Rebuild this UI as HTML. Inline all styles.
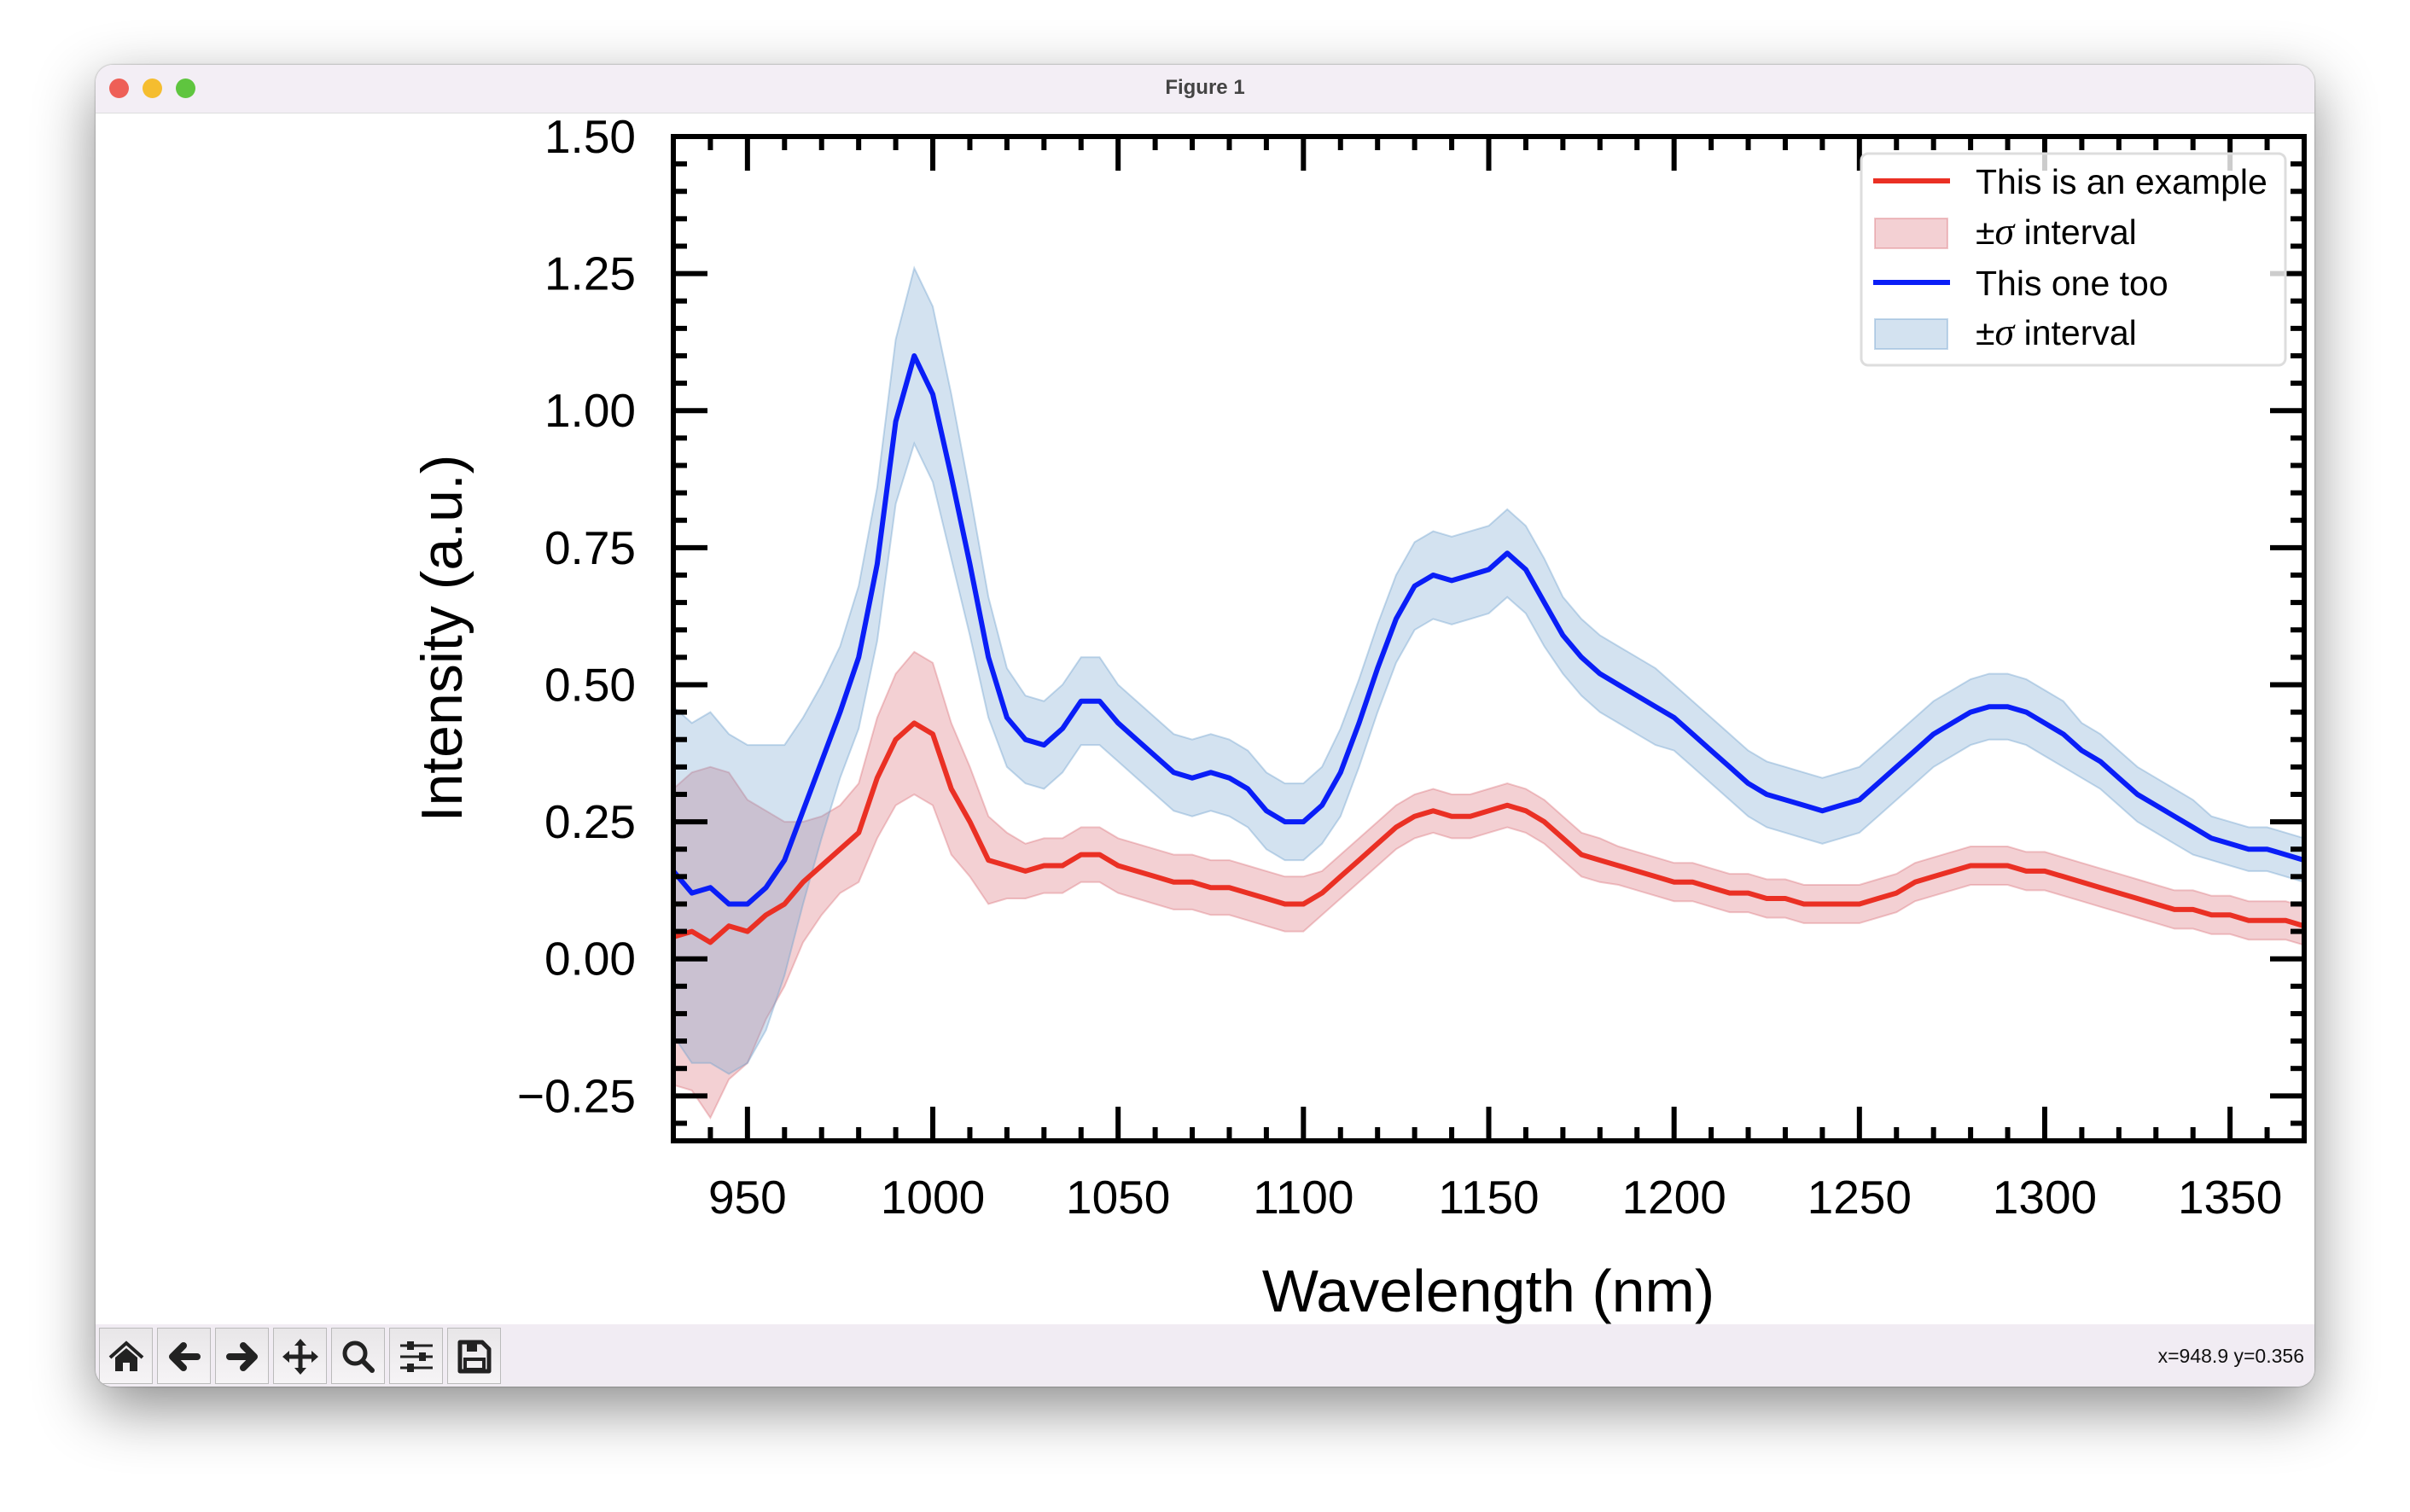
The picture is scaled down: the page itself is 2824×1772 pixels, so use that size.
<!DOCTYPE html>
<html><head><meta charset="utf-8"><style>
html,body{margin:0;padding:0;background:#fff;}
body{width:2824px;height:1772px;position:relative;overflow:hidden;font-family:"Liberation Sans",sans-serif;}
#win{position:absolute;left:112px;top:76px;width:2600px;height:1549px;background:#fff;border-radius:20px;box-shadow:0 25px 70px rgba(0,0,0,0.45),0 0 2px rgba(0,0,0,0.4);overflow:hidden;}
#titlebar{position:absolute;left:0;top:0;width:2600px;height:56px;background:#f3eef5;border-bottom:1px solid #ddd;}
#title{position:absolute;left:0;right:0;top:13px;text-align:center;font-weight:bold;font-size:24px;color:#444;}
.dot{position:absolute;top:16px;width:23px;height:23px;border-radius:50%;}
#toolbar{position:absolute;left:0;top:1476px;width:2600px;height:73px;background:#f1ecf3;}
.btn{position:absolute;top:4px;width:63px;height:66px;border:1px solid #bbb;background:linear-gradient(#e8e6e8,#f6f4f6);box-sizing:border-box;}
.btn svg{position:absolute;left:10px;top:12px;}
#coords{position:absolute;right:12px;top:24px;font-size:23px;color:#111;}
</style></head><body>
<div id="win">
 <div id="titlebar">
  <div class="dot" style="left:16px;background:#ee5f57"></div>
  <div class="dot" style="left:55px;background:#f5bd2f"></div>
  <div class="dot" style="left:94px;background:#5fc53f"></div>
  <div id="title">Figure 1</div>
 </div>
 <div id="toolbar">
  <div class="btn" style="left:4px"><svg width="42" height="42" viewBox="0 0 42 42"><path d="M2 22 L21 5 L40 22" fill="none" stroke="#222" stroke-width="4"/><path d="M8 22 L21 11 L34 22 V38 H25 V28 H17 V38 H8Z" fill="#222"/></svg></div>
  <div class="btn" style="left:72px"><svg width="42" height="42" viewBox="0 0 42 42"><path d="M36 21 H8 M20 8 L7 21 L20 34" fill="none" stroke="#222" stroke-width="8" stroke-linecap="round" stroke-linejoin="round"/></svg></div>
  <div class="btn" style="left:140px"><svg width="42" height="42" viewBox="0 0 42 42"><path d="M6 21 H34 M22 8 L35 21 L22 34" fill="none" stroke="#222" stroke-width="8" stroke-linecap="round" stroke-linejoin="round"/></svg></div>
  <div class="btn" style="left:208px"><svg width="42" height="42" viewBox="0 0 42 42"><path d="M21 4 V38 M4 21 H38" stroke="#222" stroke-width="5"/><path d="M21 0 L28 8 H14Z M21 42 L28 34 H14Z M0 21 L8 14 V28Z M42 21 L34 14 V28Z" fill="#222"/></svg></div>
  <div class="btn" style="left:276px"><svg width="42" height="42" viewBox="0 0 42 42"><circle cx="17" cy="17" r="12" fill="none" stroke="#222" stroke-width="5"/><path d="M26 26 L37 37" stroke="#222" stroke-width="6" stroke-linecap="round"/></svg></div>
  <div class="btn" style="left:344px"><svg width="42" height="42" viewBox="0 0 42 42"><path d="M2 8 H40 M2 21 H40 M2 34 H40" stroke="#222" stroke-width="3"/><rect x="10" y="3" width="8" height="10" fill="#222"/><rect x="24" y="16" width="8" height="10" fill="#222"/><rect x="10" y="29" width="8" height="10" fill="#222"/></svg></div>
  <div class="btn" style="left:412px"><svg width="42" height="42" viewBox="0 0 42 42"><path d="M4 4 H30 L38 12 V38 H4Z" fill="none" stroke="#222" stroke-width="5" stroke-linejoin="round"/><rect x="12" y="4" width="12" height="11" fill="#222"/><rect x="10" y="24" width="22" height="12" fill="none" stroke="#222" stroke-width="4"/></svg></div>
  <div id="coords">x=948.9 y=0.356</div>
 </div>
</div>
<svg id="chart" width="2824" height="1772" style="position:absolute;left:0;top:0"></svg>
<script>
const wavelengths=[930,935,940,945,950,955,960,965,970,975,980,985,990,995,1000,1005,1010,1015,1020,1025,1030,1035,1040,1045,1050,1055,1060,1065,1070,1075,1080,1085,1090,1095,1100,1105,1110,1115,1120,1125,1130,1135,1140,1145,1150,1155,1160,1165,1170,1175,1180,1185,1190,1195,1200,1205,1210,1215,1220,1225,1230,1235,1240,1245,1250,1255,1260,1265,1270,1275,1280,1285,1290,1295,1300,1305,1310,1315,1320,1325,1330,1335,1340,1345,1350,1355,1360,1365,1370];
const blueMean=[0.16,0.12,0.13,0.10,0.10,0.13,0.18,0.27,0.36,0.45,0.55,0.72,0.98,1.10,1.03,0.88,0.72,0.55,0.44,0.40,0.39,0.42,0.47,0.47,0.43,0.40,0.37,0.34,0.33,0.34,0.33,0.31,0.27,0.25,0.25,0.28,0.34,0.43,0.53,0.62,0.68,0.70,0.69,0.70,0.71,0.74,0.71,0.65,0.59,0.55,0.52,0.50,0.48,0.46,0.44,0.41,0.38,0.35,0.32,0.30,0.29,0.28,0.27,0.28,0.29,0.32,0.35,0.38,0.41,0.43,0.45,0.46,0.46,0.45,0.43,0.41,0.38,0.36,0.33,0.30,0.28,0.26,0.24,0.22,0.21,0.20,0.20,0.19,0.18];
const blueSigma=[0.30,0.31,0.32,0.31,0.29,0.26,0.21,0.17,0.14,0.12,0.13,0.14,0.15,0.16,0.16,0.15,0.13,0.11,0.09,0.08,0.08,0.08,0.08,0.08,0.07,0.07,0.07,0.07,0.07,0.07,0.07,0.07,0.07,0.07,0.07,0.07,0.08,0.08,0.08,0.08,0.08,0.08,0.08,0.08,0.08,0.08,0.08,0.08,0.07,0.07,0.07,0.07,0.07,0.07,0.06,0.06,0.06,0.06,0.06,0.06,0.06,0.06,0.06,0.06,0.06,0.06,0.06,0.06,0.06,0.06,0.06,0.06,0.06,0.06,0.06,0.06,0.05,0.05,0.05,0.05,0.05,0.05,0.05,0.04,0.04,0.04,0.04,0.04,0.04];
const redMean=[0.04,0.05,0.03,0.06,0.05,0.08,0.10,0.14,0.17,0.20,0.23,0.33,0.40,0.43,0.41,0.31,0.25,0.18,0.17,0.16,0.17,0.17,0.19,0.19,0.17,0.16,0.15,0.14,0.14,0.13,0.13,0.12,0.11,0.10,0.10,0.12,0.15,0.18,0.21,0.24,0.26,0.27,0.26,0.26,0.27,0.28,0.27,0.25,0.22,0.19,0.18,0.17,0.16,0.15,0.14,0.14,0.13,0.12,0.12,0.11,0.11,0.10,0.10,0.10,0.10,0.11,0.12,0.14,0.15,0.16,0.17,0.17,0.17,0.16,0.16,0.15,0.14,0.13,0.12,0.11,0.10,0.09,0.09,0.08,0.08,0.07,0.07,0.07,0.06];
const redSigma=[0.27,0.29,0.32,0.28,0.24,0.19,0.15,0.11,0.09,0.08,0.09,0.11,0.12,0.13,0.13,0.12,0.10,0.08,0.06,0.05,0.05,0.05,0.05,0.05,0.05,0.05,0.05,0.05,0.05,0.05,0.05,0.05,0.05,0.05,0.05,0.04,0.04,0.04,0.04,0.04,0.04,0.04,0.04,0.04,0.04,0.04,0.04,0.04,0.04,0.04,0.04,0.035,0.035,0.035,0.035,0.035,0.035,0.035,0.035,0.035,0.035,0.035,0.035,0.035,0.035,0.035,0.035,0.035,0.035,0.035,0.035,0.035,0.035,0.035,0.035,0.035,0.035,0.035,0.035,0.035,0.035,0.035,0.035,0.035,0.035,0.035,0.035,0.035,0.035];
const xTicks=[950,1000,1050,1100,1150,1200,1250,1300,1350];
const yTicks=[-0.25,0,0.25,0.5,0.75,1.0,1.25,1.5];
const yTickLabels=["\u22120.25","0.00","0.25","0.50","0.75","1.00","1.25","1.50"];

const NS="http://www.w3.org/2000/svg";
const svg=document.getElementById('chart');
const L=789,R=2700,T=160,B=1337;
const X0=930,X1=1370,Y0=-0.332,Y1=1.5;
const sx=v=>L+(v-X0)/(X1-X0)*(R-L);
const sy=v=>B-(v-Y0)/(Y1-Y0)*(B-T);
function mk(tag,attrs,parent){const e=document.createElementNS(NS,tag);for(const k in attrs)e.setAttribute(k,attrs[k]);(parent||svg).appendChild(e);return e;}
const clip=mk('clipPath',{id:'pc'});mk('rect',{x:L,y:T,width:R-L,height:B-T},clip);
const g=mk('g',{'clip-path':'url(#pc)'});
function band(mean,sig,fill,stroke,name){
  let d='M';
  wavelengths.forEach((w,i)=>{d+=sx(w).toFixed(1)+','+sy(mean[i]+sig[i]).toFixed(1)+' L';});
  for(let i=wavelengths.length-1;i>=0;i--){d+=sx(wavelengths[i]).toFixed(1)+','+sy(mean[i]-sig[i]).toFixed(1)+(i?' L':' Z');}
  const p=mk('path',{d:d,fill:fill,stroke:stroke,'stroke-width':2},g);
  
  
}
function line(mean,color,name){
  const pts=wavelengths.map((w,i)=>sx(w).toFixed(1)+','+sy(mean[i]).toFixed(1)).join(' ');
  const p=mk('polyline',{points:pts,fill:'none',stroke:color,'stroke-width':6,'stroke-linejoin':'round'},g);
  
  
}
band(redMean,redSigma,'rgba(214,100,108,0.3)','rgba(214,100,108,0.35)','red-sigma-band');
band(blueMean,blueSigma,'rgba(110,160,205,0.3)','rgba(110,160,205,0.4)','blue-sigma-band');
line(redMean,'#ea3024','red-series-line');
line(blueMean,'#0a1ef7','blue-series-line');
const tg=mk('g',{stroke:'#000','stroke-width':6});
for(let v=930;v<=1370;v+=10){const maj=v%50===0;const len=maj?40:16;const x=sx(v);
  mk('line',{x1:x,y1:B,x2:x,y2:B-len},tg);mk('line',{x1:x,y1:T,x2:x,y2:T+len},tg);}
for(let k=-6;k<=30;k++){const v=k*0.05;if(v<Y0)continue;const maj=k%5===0;const len=maj?40:16;const y=sy(v);
  mk('line',{x1:L,y1:y,x2:L+len,y2:y},tg);mk('line',{x1:R,y1:y,x2:R-len,y2:y},tg);}


xTicks.forEach(v=>{const t=mk('text',{x:sx(v),y:1422,'font-size':55,'text-anchor':'middle','font-family':'Liberation Sans, sans-serif'});t.textContent=v;
  
  });
yTicks.forEach((v,i)=>{const t=mk('text',{x:745,y:sy(v)+19,'font-size':55,'text-anchor':'end','font-family':'Liberation Sans, sans-serif'});t.textContent=yTickLabels[i];
  
  });
const lg=mk('g',{});


mk('rect',{x:2181,y:180,width:497,height:248,rx:8,fill:'rgba(255,255,255,0.8)',stroke:'#ddd','stroke-width':3},lg);
const rows=[212,271,331,389];
const labels=['This is an example','\u00b1\u03c3 interval','This one too','\u00b1\u03c3 interval'];
const lnames=['legend-entry-red-line','legend-entry-red-band','legend-entry-blue-line','legend-entry-blue-band'];
rows.forEach((y,i)=>{
  if(i===0)mk('line',{x1:2195,y1:y,x2:2285,y2:y,stroke:'#ea3024','stroke-width':6},lg);
  if(i===2)mk('line',{x1:2195,y1:y,x2:2285,y2:y,stroke:'#0a1ef7','stroke-width':6},lg);
  if(i===1)mk('rect',{x:2197,y:y-15,width:85,height:35,fill:'rgba(214,100,108,0.3)',stroke:'rgba(214,100,108,0.35)','stroke-width':2},lg);
  if(i===3)mk('rect',{x:2197,y:y-15,width:85,height:35,fill:'rgba(110,160,205,0.3)',stroke:'rgba(110,160,205,0.4)','stroke-width':2},lg);
  const t=mk('text',{x:2315,y:y+15,'font-size':41,'font-family':'Liberation Sans, sans-serif'},lg);
  if(i%2===1){t.innerHTML='\u00b1<tspan font-style="italic" font-family="Liberation Serif, serif" font-size="46">\u03c3</tspan> interval';}
  else t.textContent=labels[i];
  
  
});
const sp=mk('rect',{x:L,y:T,width:R-L,height:B-T,fill:'none',stroke:'#000','stroke-width':6});


const xl=mk('text',{x:1744,y:1537,'font-size':70,'text-anchor':'middle','font-family':'Liberation Sans, sans-serif'});xl.textContent='Wavelength (nm)';


const yl=mk('text',{x:0,y:0,'font-size':68,'text-anchor':'middle','font-family':'Liberation Sans, sans-serif',transform:'translate(541,748) rotate(-90)'});yl.textContent='Intensity (a.u.)';


</script>
</body></html>
